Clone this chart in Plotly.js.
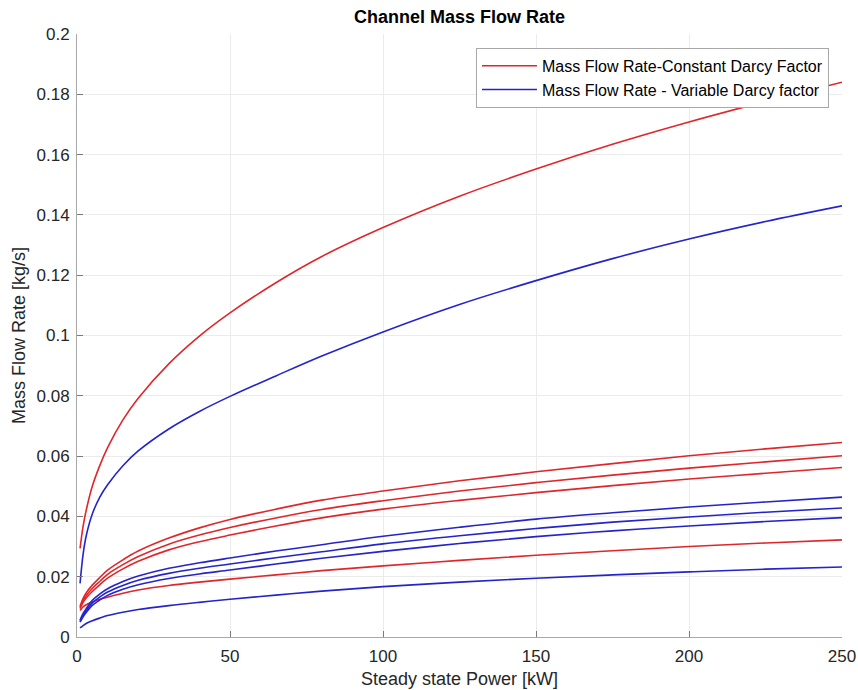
<!DOCTYPE html>
<html>
<head>
<meta charset="utf-8">
<script src="https://cdn.plot.ly/plotly-3.0.1.min.js"></script>
<style>
  html, body { margin: 0; padding: 0; background: #ffffff; }
  #chart { width: 858px; height: 690px; }
</style>
</head>
<body>
<div id="chart"></div>
<script>
// Steady state power [kW] at which each channel's mass flow rate is listed
const power = [1, 2, 3, 5, 7.5, 10, 15, 20, 30, 40, 50, 65, 80, 100, 125, 150, 175, 200, 225, 250];

// Mass flow rate [kg/s], constant Darcy factor
const constTop = [0.0294, 0.0368, 0.0420, 0.0500, 0.0570, 0.0628, 0.0720, 0.0792, 0.0906, 0.0998,
                  0.1075, 0.1175, 0.1262, 0.1358, 0.1462, 0.1552, 0.1634, 0.1708, 0.1776, 0.1840];
const const1   = [0.0102, 0.0128, 0.0146, 0.0172, 0.0198, 0.0222, 0.0256, 0.0285, 0.0328, 0.0362,
                  0.0390, 0.0424, 0.0454, 0.0484, 0.0518, 0.0548, 0.0575, 0.0601, 0.0624, 0.0645];
const const2   = [0.0098, 0.0121, 0.0137, 0.0161, 0.0185, 0.0208, 0.0240, 0.0267, 0.0308, 0.0338,
                  0.0363, 0.0395, 0.0423, 0.0452, 0.0484, 0.0512, 0.0537, 0.0560, 0.0581, 0.0601];
const const3   = [0.0094, 0.0115, 0.0129, 0.0151, 0.0174, 0.0195, 0.0226, 0.0251, 0.0289, 0.0316,
                  0.0338, 0.0368, 0.0395, 0.0424, 0.0453, 0.0479, 0.0502, 0.0524, 0.0543, 0.0562];
const constLow = [0.0088, 0.0100, 0.0107, 0.0116, 0.0125, 0.0132, 0.0145, 0.0156, 0.0171, 0.0182,
                  0.0192, 0.0206, 0.0220, 0.0236, 0.0254, 0.0271, 0.0286, 0.0300, 0.0312, 0.0322];

// Mass flow rate [kg/s], variable Darcy factor
const varTop   = [0.0178, 0.0275, 0.0335, 0.0408, 0.0465, 0.0505, 0.0568, 0.0617, 0.0690, 0.0748,
                  0.0798, 0.0866, 0.0932, 0.1012, 0.1103, 0.1182, 0.1255, 0.1320, 0.1378, 0.1430];
const var1     = [0.0056, 0.0078, 0.0094, 0.0122, 0.0143, 0.0160, 0.0184, 0.0202, 0.0228, 0.0246,
                  0.0262, 0.0285, 0.0306, 0.0334, 0.0364, 0.0391, 0.0412, 0.0431, 0.0448, 0.0464];
const var2     = [0.0052, 0.0072, 0.0087, 0.0113, 0.0133, 0.0149, 0.0171, 0.0188, 0.0211, 0.0228,
                  0.0242, 0.0263, 0.0283, 0.0309, 0.0336, 0.0360, 0.0381, 0.0398, 0.0414, 0.0428];
const var3     = [0.0049, 0.0067, 0.0081, 0.0105, 0.0123, 0.0138, 0.0158, 0.0173, 0.0194, 0.0209,
                  0.0222, 0.0242, 0.0261, 0.0284, 0.0310, 0.0333, 0.0352, 0.0368, 0.0383, 0.0396];
const varLow   = [0.0030, 0.0038, 0.0045, 0.0054, 0.0063, 0.0071, 0.0082, 0.0091, 0.0104, 0.0115,
                  0.0125, 0.0139, 0.0152, 0.0167, 0.0182, 0.0195, 0.0206, 0.0216, 0.0225, 0.0232];

// Axis ticks
const xTicks = [0, 50, 100, 150, 200, 250];
const xTickText = ['0', '50', '100', '150', '200', '250'];
const yTicks = [0, 0.02, 0.04, 0.06, 0.08, 0.1, 0.12, 0.14, 0.16, 0.18, 0.2];
const yTickText = ['0', '0.02', '0.04', '0.06', '0.08', '0.1', '0.12', '0.14', '0.16', '0.18', '0.2'];

const legendConst = 'Mass Flow Rate-Constant Darcy Factor';
const legendVar = 'Mass Flow Rate - Variable Darcy factor';

const RED = '#e0262b';
const BLUE = '#2424cc';

function curve(y, color, name, show) {
  return {
    x: power, y: y, type: 'scatter', mode: 'lines',
    name: name, showlegend: show,
    line: { color: color, width: 1.6, shape: 'spline', smoothing: 1 },
    hoverinfo: 'skip'
  };
}

const traces = [
  curve(constTop, RED, legendConst, true),
  curve(varTop, BLUE, legendVar, true),
  curve(const1, RED, legendConst, false),
  curve(const2, RED, legendConst, false),
  curve(const3, RED, legendConst, false),
  curve(constLow, RED, legendConst, false),
  curve(var1, BLUE, legendVar, false),
  curve(var2, BLUE, legendVar, false),
  curve(var3, BLUE, legendVar, false),
  curve(varLow, BLUE, legendVar, false)
];

const FONT = 'Liberation Sans, Arial, Helvetica, sans-serif';

const layout = {
  width: 858, height: 690,
  margin: { l: 77, r: 16, t: 34, b: 53 },
  paper_bgcolor: '#ffffff', plot_bgcolor: '#ffffff',
  font: { family: FONT, color: '#262626' },
  title: {
    text: '<b>Channel Mass Flow Rate</b>',
    font: { size: 18, color: '#000000', family: FONT },
    x: 0.5355, xanchor: 'center', y: 0.976, yanchor: 'middle'
  },
  xaxis: {
    range: [0, 250], tickvals: xTicks, ticktext: xTickText,
    showgrid: true, gridcolor: '#ebebeb', gridwidth: 1,
    showline: true, linecolor: '#a8a8a8', linewidth: 1, mirror: false,
    ticks: 'inside', ticklen: 6, tickcolor: '#7a7a7a',
    ticklabelstandoff: 4,
    zeroline: false,
    tickfont: { size: 17, color: '#262626' },
    title: { text: 'Steady state Power [kW]', font: { size: 18, color: '#262626' }, standoff: 6 }
  },
  yaxis: {
    range: [0, 0.2], tickvals: yTicks, ticktext: yTickText,
    showgrid: true, gridcolor: '#ebebeb', gridwidth: 1,
    showline: true, linecolor: '#a8a8a8', linewidth: 1, mirror: false,
    ticks: 'inside', ticklen: 6, tickcolor: '#7a7a7a',
    ticklabelstandoff: 3,
    zeroline: false,
    tickfont: { size: 17, color: '#262626' },
    title: { text: 'Mass Flow Rate [kg/s]', font: { size: 18, color: '#262626' }, standoff: 6 }
  },
  legend: {
    x: 0.983, xanchor: 'right', y: 0.977, yanchor: 'top',
    bgcolor: '#ffffff', bordercolor: '#a8a8a8', borderwidth: 1,
    font: { size: 16, color: '#000000' },
    tracegroupgap: 0, itemwidth: 55
  },
  showlegend: true
};

Plotly.newPlot('chart', traces, layout, { displayModeBar: false, staticPlot: true });
</script>
</body>
</html>
